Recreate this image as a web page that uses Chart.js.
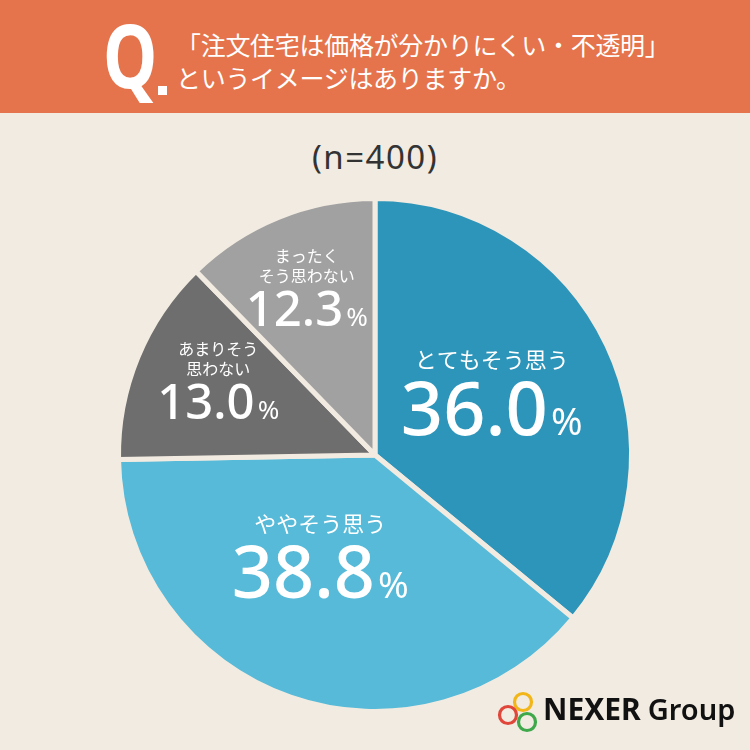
<!DOCTYPE html>
<html><head><meta charset="utf-8">
<script src="https://cdn.jsdelivr.net/npm/chart.js@4.4.0/dist/chart.umd.min.js"></script>
<style>
html,body{margin:0;padding:0;width:750px;height:750px;background:#f2ebe1;overflow:hidden;font-family:"Noto Sans CJK JP","Noto Sans",sans-serif;}
#hdr{position:absolute;left:0;top:0;width:750px;height:113px;background:#e5744c;}
#q{position:absolute;left:103px;top:10px;color:#fff;font:700 88px "Noto Sans",sans-serif;line-height:1;transform:scaleX(0.78);transform-origin:left top;}
#qdot{position:absolute;left:158px;top:86px;width:9px;height:9px;background:#fff;}
#qt{position:absolute;left:176px;top:28px;color:#fff;font:400 25px "Noto Sans CJK JP",sans-serif;line-height:33px;letter-spacing:-0.3px;}
#n{position:absolute;left:0;width:750px;top:134px;text-align:center;color:#333;font:400 33px "Noto Sans",sans-serif;letter-spacing:1.5px;}
#wrap{position:absolute;left:0;top:0;width:750px;height:750px;}
#logo{position:absolute;left:495px;top:688px;width:50px;height:50px;}
#logotxt{position:absolute;left:543px;top:694px;color:#111;font:700 30px "Noto Sans",sans-serif;white-space:nowrap;line-height:1;}
#logotxt span{font-weight:600;font-size:29px;margin-left:7px;}
</style></head>
<body>
<div id="hdr"><div id="q">Q</div><div id="qdot"></div><div id="qt">「注文住宅は価格が分かりにくい・不透明」<br>というイメージはありますか。</div></div>
<div id="n">(n=400)</div>
<div id="wrap"><canvas id="c" width="750" height="750"></canvas></div>
<svg id="logo" width="50" height="50" viewBox="0 0 50 50">
<circle cx="28" cy="14" r="8.5" fill="none" stroke="#f2b619" stroke-width="3.2"/>
<circle cx="13" cy="27" r="8.5" fill="none" stroke="#e0463a" stroke-width="3.2"/>
<circle cx="32" cy="34" r="8.5" fill="none" stroke="#3ea84a" stroke-width="3.2"/>
</svg>
<div id="logotxt">NEXER<span>Group</span></div>
<script>
const categories = ["とてもそう思う", "ややそう思う", "あまりそう\n思わない", "まったく\nそう思わない"];
const values = [36.0, 38.8, 13.0, 12.3];
const colors = ["#2d95b9", "#56bad8", "#6e6e6e", "#a1a1a1"];
// label placement per slice: angle (deg from top, clockwise), radius fraction, font sizes
const placement = [
  {a: 61, r: 0.52, big: 74, pct: 38, small: 22, gap: 9},
  {a: 209, r: 0.44, big: 72, pct: 37, small: 22, gap: 9},
  {a: 296, r: 0.68, big: 49, pct: 26, small: 16, gap: 5},
  {a: 338, r: 0.71, big: 49, pct: 26, small: 16, gap: 5}
];
const labelPlugin = {
  id: 'sliceLabels',
  afterDatasetsDraw(chart) {
    const ctx = chart.ctx;
    const meta = chart.getDatasetMeta(0);
    meta.data.forEach((arc, i) => {
      const p = placement[i];
      const R = arc.outerRadius;
      const ang = (p.a - 90) * Math.PI / 180;
      const cx = arc.x + Math.cos(ang) * R * p.r;
      const cy = arc.y + Math.sin(ang) * R * p.r;
      const lines = categories[i].split("\n");
      const lh = p.small * 1.25;
      const numStr = values[i].toFixed(1);
      ctx.save();
      ctx.fillStyle = "#ffffff";
      ctx.textAlign = "center";
      ctx.textBaseline = "alphabetic";
      const capH = p.big * 0.72;
      const totalH = lines.length * lh + p.gap + capH;
      let y = cy - totalH / 2;
      ctx.font = `400 ${p.small}px "Noto Sans CJK JP", sans-serif`;
      lines.forEach((ln, k) => {
        ctx.fillText(ln, cx, y + lh * (k + 1) - p.small * 0.22);
      });
      y += lines.length * lh + p.gap + capH;
      ctx.font = `500 ${p.big}px "Noto Sans", sans-serif`;
      const wNum = ctx.measureText(numStr).width;
      ctx.font = `400 ${p.pct}px "Noto Sans", sans-serif`;
      const wPct = ctx.measureText("%").width;
      const total = wNum + wPct + 3;
      const x0 = cx - total / 2;
      ctx.textAlign = "left";
      ctx.font = `500 ${p.big}px "Noto Sans", sans-serif`;
      ctx.fillText(numStr, x0, y);
      ctx.font = `400 ${p.pct}px "Noto Sans", sans-serif`;
      ctx.fillText("%", x0 + wNum + 3, y);
      ctx.restore();
    });
  }
};
new Chart(document.getElementById('c'), {
  type: 'pie',
  data: {
    labels: categories,
    datasets: [{
      data: values,
      backgroundColor: colors,
      borderColor: "#f2ebe1",
      borderWidth: 5,
      hoverOffset: 0
    }]
  },
  options: {
    responsive: false,
    animation: false,
    devicePixelRatio: 1,
    layout: {padding: {top: 196, bottom: 36, left: 116, right: 116}},
    plugins: {legend: {display: false}, tooltip: {enabled: false}}
  },
  plugins: [labelPlugin]
});
</script>
</body></html>
